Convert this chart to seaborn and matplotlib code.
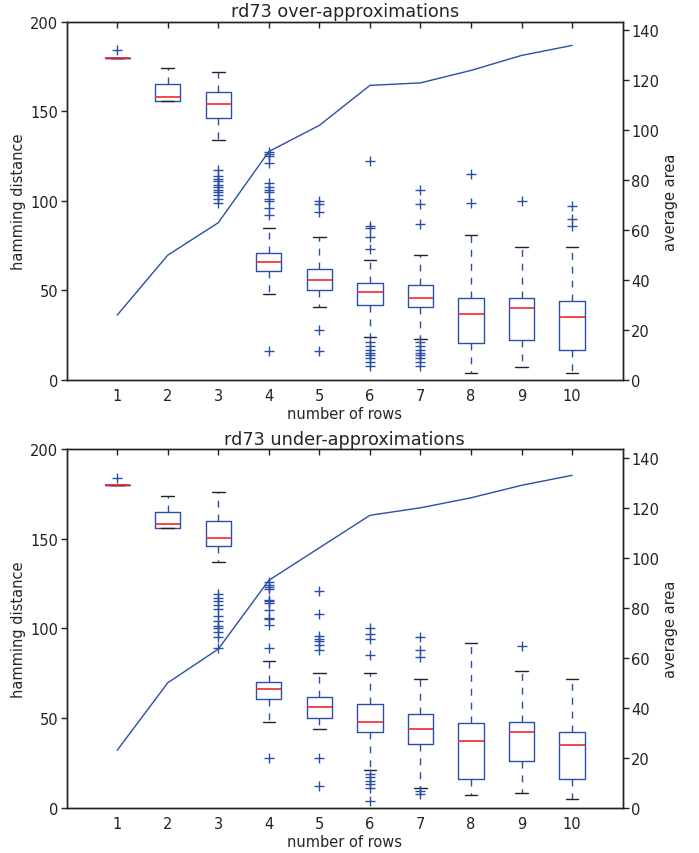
import numpy as np
import pandas as pd
import seaborn as sns
import matplotlib
matplotlib.use("Agg")
import matplotlib.pyplot as plt

# number of rows (x axis)
rows = [1, 2, 3, 4, 5, 6, 7, 8, 9, 10]

# ---- over-approximations: box statistics ----
over_q1 = [180, 156, 146, 61, 50, 42, 41, 20.5, 22.5, 16.5]
over_med = [180, 158, 154, 66, 56, 49, 46, 37, 40, 35]
over_q3 = [180, 165, 161, 71, 62, 54, 53, 46, 46, 44]
over_lo = [180, 156, 134, 48, 41, 24, 23, 4, 7, 4]
over_hi = [180, 174, 172, 85, 80, 67, 70, 81, 74, 74]
over_fliers = [
    [184],
    [],
    [117, 114, 112, 111, 109, 108, 106, 105, 103, 101, 99],
    [16, 127, 126, 125, 121, 110, 108, 106, 105, 101, 100, 96, 92],
    [28, 16, 100, 98, 94],
    [21, 19, 17, 15, 14, 12, 10, 8, 122, 86, 85, 80, 73],
    [21, 19, 17, 15, 14, 12, 10, 8, 106, 98, 87],
    [115, 99],
    [100],
    [97, 90, 86],
]
over_area = [26, 50, 63, 91.5, 102, 118, 119, 124, 130, 134]

# ---- under-approximations ----
under_q1 = [180, 156, 146, 60.5, 50, 42.5, 35.5, 16, 26, 16]
under_med = [180, 158, 150.5, 66, 56, 48, 44, 37, 42.5, 35]
under_q3 = [180, 165, 160, 70, 62, 58, 52, 47, 48, 42]
under_lo = [180, 156, 137, 48, 44, 21, 11, 7, 8, 5]
under_hi = [180, 174, 176, 82, 75, 75, 72, 92, 76, 72]
under_fliers = [
    [184],
    [],
    [119, 117, 115, 113, 111, 107, 104, 101.5, 100, 98, 95, 89],
    [28, 126, 124, 123, 122, 116, 115, 114, 110, 106, 105, 102, 89],
    [28, 12, 121, 108, 96, 94, 93, 91, 88],
    [19, 17, 15, 13, 11, 4, 100, 97, 94, 85],
    [9.5, 7.5, 95, 88, 84],
    [],
    [90],
    [],
]
under_area = [23, 50, 63.5, 91, 104, 117, 120, 124, 129, 133]

blue = "#2a4fa8"


def samples(q1, med, q3, lo, hi, fl, n=100):
    # expand the read statistics into an observation table for sns.boxplot
    recs = []
    for i, r in enumerate(rows):
        vals = [lo[i], hi[i]] + [q1[i]] * n + [med[i]] * n + [q3[i]] * n + fl[i]
        recs += [(r, v) for v in vals]
    return pd.DataFrame(recs, columns=["rows", "dist"])


sns.set_style("white")
plt.rcParams["font.family"] = ["DejaVu Sans"]
plt.rcParams["axes.edgecolor"] = "#222222"
plt.rcParams["axes.linewidth"] = 1.0

fig = plt.figure(figsize=(6.99, 8.54), dpi=100)
panels = [
    ("rd73 over-approximations", [0.0954, 0.5539, 0.7954, 0.4195],
     over_q1, over_med, over_q3, over_lo, over_hi, over_fliers, over_area),
    ("rd73 under-approximations", [0.0954, 0.0530, 0.7954, 0.4200],
     under_q1, under_med, under_q3, under_lo, under_hi, under_fliers, under_area),
]

for title, rect, q1, med, q3, lo, hi, fl, area in panels:
    ax = fig.add_axes(rect)
    df = samples(q1, med, q3, lo, hi, fl)
    sns.boxplot(data=df, x="rows", y="dist", ax=ax, native_scale=True,
                orient="x", width=0.5, fill=False, color=blue, linewidth=1,
                whis=1.5,
                medianprops={"color": "#ee2a2a", "linewidth": 1.2, "zorder": 4},
                capprops={"color": "#222222", "linewidth": 1},
                whiskerprops={"color": blue, "linestyle": (0, (5, 5)), "linewidth": 1},
                flierprops={"marker": "+", "markeredgecolor": blue,
                            "markersize": 7, "markeredgewidth": 1})
    ax.set_xlim(0, 11)
    ax.set_ylim(0, 200)
    ax.set_xticks(rows)
    ax.set_xticklabels([str(r) for r in rows])
    ax.set_yticks([0, 50, 100, 150, 200])
    ax.tick_params(axis="both", direction="out", length=4, width=1, pad=2,
                   labelsize=10.5, colors="#222222", top=False, right=False)
    ax.set_xlabel("number of rows", fontsize=10.5, labelpad=2)
    ax.set_ylabel("hamming distance", fontsize=10.5, labelpad=3)
    ax.set_title(title, fontsize=12.7, pad=4)

    ax2 = ax.twinx()
    sns.lineplot(x=rows, y=area, ax=ax2, color=blue, linewidth=1)
    ax2.set_ylim(0, 143.5)
    ax2.set_yticks([0, 20, 40, 60, 80, 100, 120, 140])
    ax2.tick_params(axis="y", direction="out", length=4, width=1, pad=2,
                    labelsize=10.5, colors="#222222")
    ax2.set_ylabel("average area", fontsize=10.5, labelpad=3)
    # inward ticks along the top edge
    ax2.xaxis.set_visible(True)
    ax2.tick_params(axis="x", bottom=False, top=True, labelbottom=False,
                    labeltop=False, direction="in", length=4, width=1,
                    colors="#222222")
    ax2.set_xlim(0, 11)

fig.savefig("out.png", dpi=100)
